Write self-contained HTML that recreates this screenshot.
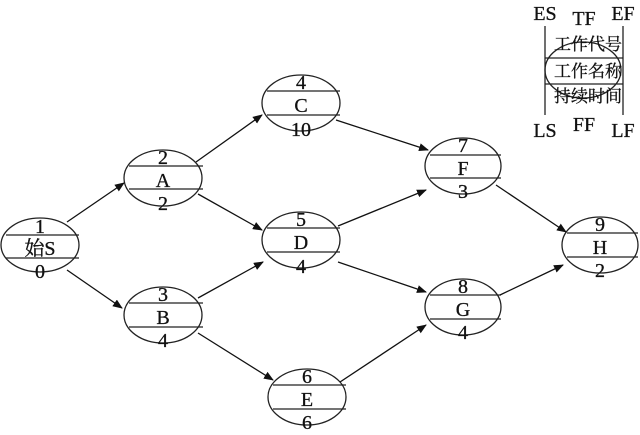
<!DOCTYPE html>
<html><head><meta charset="utf-8"><style>
html,body{margin:0;padding:0;background:#fff}
svg{display:block}
text{font-family:"Liberation Serif","Noto Serif CJK SC",serif;font-size:20px;fill:#111;text-anchor:middle;stroke:#111;stroke-width:0.3}
.cjk{font-family:"Noto Serif CJK SC","WenQuanYi Zen Hei",serif;font-size:17px}
</style></head><body>
<svg width="640" height="435" viewBox="0 0 640 435" xmlns="http://www.w3.org/2000/svg">
<defs><marker id="a" markerWidth="10" markerHeight="8" refX="9" refY="4" orient="auto" markerUnits="userSpaceOnUse"><path d="M0,0 L10,4 L0,8 Z" fill="#111"/></marker></defs>
<g stroke="#222" stroke-width="1.3" fill="none">
<ellipse cx="40" cy="245" rx="39" ry="27"/><line x1="6" y1="235" x2="79" y2="235"/><line x1="6" y1="258" x2="79" y2="258"/>
<ellipse cx="163" cy="178" rx="39" ry="28"/><line x1="129" y1="166" x2="203" y2="166"/><line x1="129" y1="189" x2="203" y2="189"/>
<ellipse cx="163" cy="315" rx="39" ry="28"/><line x1="129" y1="303" x2="203" y2="303"/><line x1="129" y1="327" x2="203" y2="327"/>
<ellipse cx="301" cy="103" rx="39" ry="28"/><line x1="267" y1="91" x2="340" y2="91"/><line x1="267" y1="115" x2="340" y2="115"/>
<ellipse cx="301" cy="240" rx="39" ry="28"/><line x1="267" y1="228" x2="340" y2="228"/><line x1="267" y1="252" x2="340" y2="252"/>
<ellipse cx="307" cy="397" rx="39" ry="28"/><line x1="273" y1="385" x2="346" y2="385"/><line x1="273" y1="409" x2="346" y2="409"/>
<ellipse cx="463" cy="166" rx="38" ry="28"/><line x1="430" y1="155" x2="501" y2="155"/><line x1="430" y1="178" x2="501" y2="178"/>
<ellipse cx="463" cy="307" rx="38" ry="28"/><line x1="430" y1="295" x2="501" y2="295"/><line x1="430" y1="319" x2="501" y2="319"/>
<ellipse cx="600" cy="245" rx="38" ry="28"/><line x1="567" y1="233" x2="638" y2="233"/><line x1="567" y1="257" x2="638" y2="257"/>
<ellipse cx="583" cy="70" rx="38" ry="28"/>
<line x1="545" y1="26" x2="545" y2="115"/><line x1="623" y1="26" x2="623" y2="115"/>
<line x1="545" y1="58" x2="623" y2="58"/><line x1="545" y1="84" x2="623" y2="84"/>
</g>
<g stroke="#111" stroke-width="1.3" marker-end="url(#a)">
<line x1="67" y1="222" x2="124" y2="183"/>
<line x1="67" y1="270" x2="122" y2="308"/>
<line x1="196" y1="162" x2="262" y2="115"/>
<line x1="198" y1="194" x2="262" y2="230"/>
<line x1="198" y1="298" x2="263" y2="262"/>
<line x1="198" y1="333" x2="273" y2="380"/>
<line x1="336" y1="120" x2="428" y2="150"/>
<line x1="338" y1="226" x2="426" y2="190"/>
<line x1="338" y1="262" x2="426" y2="292"/>
<line x1="340" y1="382" x2="426" y2="325"/>
<line x1="496" y1="185" x2="566" y2="232"/>
<line x1="500" y1="295" x2="563" y2="265"/>
</g>
<text x="40" y="233">1</text><text x="40" y="255">始S</text><text x="40" y="278">0</text>
<text x="163" y="164">2</text><text x="163" y="187">A</text><text x="163" y="210">2</text>
<text x="163" y="301">3</text><text x="163" y="324">B</text><text x="163" y="347">4</text>
<text x="301" y="89">4</text><text x="301" y="112">C</text><text x="301" y="136">10</text>
<text x="301" y="226">5</text><text x="301" y="249">D</text><text x="301" y="273">4</text>
<text x="307" y="383">6</text><text x="307" y="406">E</text><text x="307" y="429">6</text>
<text x="463" y="152">7</text><text x="463" y="175">F</text><text x="463" y="198">3</text>
<text x="463" y="293">8</text><text x="463" y="316">G</text><text x="463" y="339">4</text>
<text x="600" y="231">9</text><text x="600" y="254">H</text><text x="600" y="277">2</text>
<text x="545" y="20">ES</text><text x="584" y="25">TF</text><text x="623" y="20">EF</text>
<text class="cjk" x="588" y="50">工作代号</text><text class="cjk" x="588" y="77">工作名称</text><text class="cjk" x="588" y="102">持续时间</text>
<text x="545" y="137">LS</text><text x="584" y="131">FF</text><text x="623" y="137">LF</text>
</svg>
</body></html>
